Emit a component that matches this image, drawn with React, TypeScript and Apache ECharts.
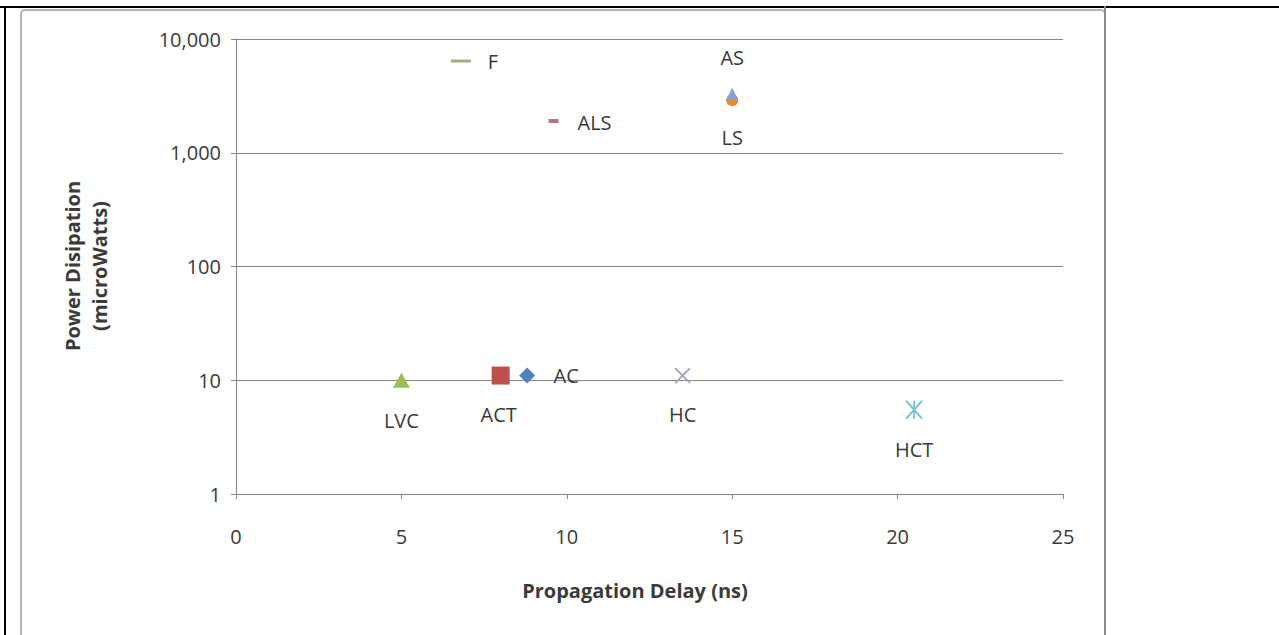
import React, { useEffect, useRef } from "react";
import * as echarts from "echarts";

const names = ["AC", "ACT", "LVC", "HC", "HCT", "LS", "AS", "ALS", "F"];
const delays = [8.8, 8.0, 5.0, 13.5, 20.5, 15, 15, 9.6, 6.8];
const powers = [11, 11, 10, 11, 5.5, 2900, 3300, 1900, 6400];
const xTicks = [0, 5, 10, 15, 20, 25];
const yTicks = [1, 10, 100, 1000, 10000];

const X_PATH = "path://M0,0L10,10M10,0L0,10";
const STAR_PATH = "path://M5,0L5,10M0,0L10,10M10,0L0,10";

const styles: Record<string, any> = {
  AC: { symbol: "diamond", size: [16, 16], color: "#4F81BD", offset: [39, 0] },
  ACT: { symbol: "rect", size: [18, 18], color: "#C0504D", offset: [-2, 39] },
  LVC: { symbol: "triangle", size: [17, 15], color: "#9BBB59", offset: [0, 40] },
  HC: { symbol: X_PATH, size: [15, 15], color: "#A49CC4", stroke: true, offset: [0, 39] },
  HCT: { symbol: STAR_PATH, size: [16, 18], color: "#74C2CF", stroke: true, offset: [0, 40] },
  LS: { symbol: "circle", size: [12, 12], color: "#E8893A", offset: [0, 37] },
  AS: { symbol: "triangle", size: [12, 12], color: "#86A2D4", offset: [0, -36] },
  ALS: { symbol: "rect", size: [10, 4], color: "#B07387", offset: [41, 1] },
  F: { symbol: "rect", size: [20, 3], color: "#A2AD84", offset: [32, 0] },
};

const FONT = "'Open Sans', sans-serif";
const TEXT = "#3a3a3a";

export default function App() {
  const ref = useRef<HTMLDivElement>(null);
  useEffect(() => {
    document.body.style.margin = "0";
    const chart = echarts.init(ref.current!, null, { renderer: "svg" });
    const series = names.map((n, i) => {
      const s = styles[n];
      return {
        name: n,
        type: "scatter",
        data: [[delays[i], powers[i]]],
        symbol: s.symbol,
        symbolSize: s.size,
        itemStyle: s.stroke
          ? { color: "rgba(0,0,0,0)", borderColor: s.color, borderWidth: 1.8, opacity: 1 }
          : { color: s.color, opacity: 1 },
        label: {
          show: true,
          position: "inside",
          offset: s.offset,
          formatter: n,
          color: TEXT,
          fontFamily: FONT,
          fontSize: 20,
        },
        emphasis: { disabled: true },
      };
    });
    chart.setOption({
      animation: false,
      backgroundColor: "#ffffff",
      grid: { left: 236, right: 216, top: 39, bottom: 141, containLabel: false },
      xAxis: {
        type: "value",
        min: xTicks[0],
        max: xTicks[xTicks.length - 1],
        interval: 5,
        axisLine: { show: true, onZero: false, lineStyle: { color: "#868686", width: 1 } },
        axisTick: { show: true, length: 5, lineStyle: { color: "#868686" } },
        splitLine: { show: false },
        axisLabel: { margin: 32, color: TEXT, fontFamily: FONT, fontSize: 20 },
      },
      yAxis: {
        type: "log",
        logBase: 10,
        min: yTicks[0],
        max: yTicks[yTicks.length - 1],
        axisLine: { show: true, lineStyle: { color: "#868686", width: 1 } },
        axisTick: { show: true, length: 5, lineStyle: { color: "#868686" } },
        splitLine: { show: true, lineStyle: { color: "#868686", width: 1 } },
        axisLabel: {
          margin: 15,
          color: TEXT,
          fontFamily: FONT,
          fontSize: 20,
          formatter: (v: number) => v.toLocaleString("en-US"),
        },
      },
      graphic: [
        { type: "rect", shape: { x: 21, y: 10, width: 1084, height: 640, r: 4 }, style: { fill: "none", stroke: "#b4b4b4", lineWidth: 2 }, silent: true },
        { type: "rect", shape: { x: 0, y: 6, width: 1279, height: 2 }, style: { fill: "#000" }, silent: true },
        { type: "rect", shape: { x: 4, y: 6, width: 2, height: 629 }, style: { fill: "#000" }, silent: true },
        { type: "rect", shape: { x: 1104, y: 6, width: 2, height: 629 }, style: { fill: "#8a8a8a" }, silent: true },
        {
          type: "text",
          x: 635,
          y: 590,
          style: { text: "Propagation Delay (ns)", font: `bold 20px ${FONT}`, fill: TEXT, align: "center", verticalAlign: "middle" },
          silent: true,
        },
        {
          type: "text",
          x: 86,
          y: 266,
          rotation: Math.PI / 2,
          style: {
            text: "Power Disipation\n(microWatts)",
            font: `bold 20px ${FONT}`,
            fill: TEXT,
            align: "center",
            verticalAlign: "middle",
            lineHeight: 27,
          },
          silent: true,
        },
      ],
      series,
    });
    return () => chart.dispose();
  }, []);
  return <div ref={ref} style={{ width: 1279, height: 635 }} />;
}
